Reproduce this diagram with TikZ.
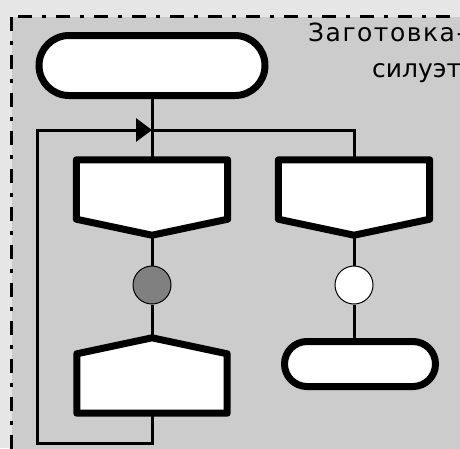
\documentclass[tikz,border=0pt]{standalone}
\usepackage{fontspec}
\setmainfont{DejaVu Sans}
\usetikzlibrary{shapes.misc,arrows.meta,calc}
\definecolor{outerbg}{HTML}{E6E6E6}
\definecolor{innerbg}{HTML}{CCCCCC}
\definecolor{dotgray}{HTML}{808080}
\begin{document}
\begin{tikzpicture}[x=1pt,y=-1pt,
  conn/.style={line width=3pt},
  term/.style={rounded rectangle, draw, line width=7pt, fill=white, inner sep=0pt},
  boxshape/.style={draw=none, inner sep=0pt, minimum width=151pt, minimum height=75pt},
  penta/.style={draw, line width=7pt, fill=white, line join=round},
  junc/.style={circle, draw, line width=1pt, minimum size=38pt, inner sep=0pt},
  lbl/.style={anchor=base west, inner sep=0pt, font=\fontsize{25}{30}\selectfont}
]
\useasboundingbox (0,0) rectangle (460,448);
\clip (0,0) rectangle (460,448);
\fill[outerbg] (0,0) rectangle (460,448);
\draw[fill=innerbg, line width=3pt, dash pattern=on 14pt off 10pt on 4pt off 10pt] (11.5,16.5) rectangle (480,470);

\node[term, minimum width=226pt, minimum height=60pt] (start) at (152,65.5) {};
\node[boxshape] (b1) at (152,197.5) {};
\node[boxshape] (b2) at (354,197.5) {};
\node[junc, fill=dotgray] (c1) at (152,285) {};
\node[junc, fill=white] (c2) at (354,285) {};
\node[boxshape, minimum width=150pt] (b3) at (152,375.5) {};
\node[term, minimum width=151pt, minimum height=45pt] (end) at (360,364) {};
\coordinate (j) at (152,130);
\coordinate (lb) at (37,443);

\draw[conn] (start.south) -- (b1.north);
\draw[conn] (j) -| (b2.north);
\draw[conn] (b1.south) -- (c1);
\draw[conn] (c1) -- (b3.north);
\draw[conn] (b2.south) -- (c2);
\draw[conn] (c2) -- (c2 |- end.north);
\draw[conn, -{Triangle[length=16pt,width=23pt]}] (b3.south) -- (b3.south |- lb) -- (lb) -- (lb |- j) -- (j);

\draw[penta] (b1.north west) -- (b1.north east) -- ([yshift=16pt]b1.south east) -- (b1.south) -- ([yshift=16pt]b1.south west) -- cycle;
\draw[penta] (b2.north west) -- (b2.north east) -- ([yshift=16pt]b2.south east) -- (b2.south) -- ([yshift=16pt]b2.south west) -- cycle;
\draw[penta] (b3.south west) -- (b3.south east) -- ([yshift=-16pt]b3.north east) -- (b3.north) -- ([yshift=-16pt]b3.north west) -- cycle;

\node[lbl] (t1) at (308,41) {\addfontfeatures{LetterSpace=6}Заготовка-};
\node[lbl] (t2) at (372,77) {силуэт};
\end{tikzpicture}
\end{document}
